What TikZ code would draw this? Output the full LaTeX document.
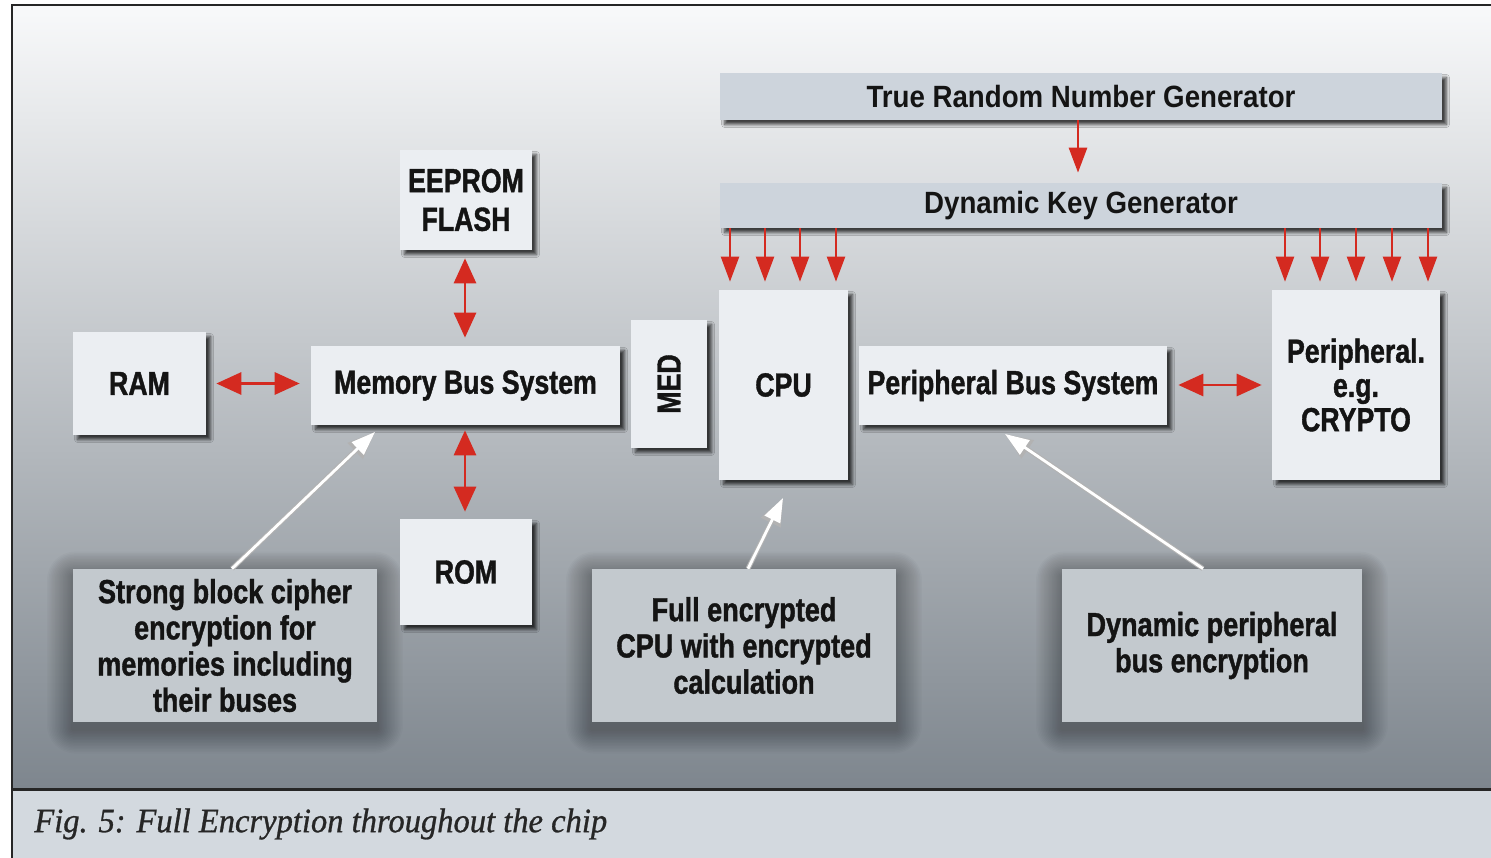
\documentclass[tikz,border=0pt]{standalone}
\usepackage{fontspec}
\setmainfont{Liberation Sans}
\newfontfamily\condf[FakeStretch=0.8, BoldFeatures={FakeBold=1.2}]{Liberation Sans}
\newfontfamily\medf[FakeStretch=0.9]{Liberation Sans}
\newfontfamily\callf[FakeStretch=0.81, BoldFeatures={FakeBold=1.2}]{Liberation Sans}
\newfontfamily\capf[FakeStretch=0.95, ItalicFeatures={FakeBold=0.8}]{Liberation Serif}
\usetikzlibrary{arrows.meta,shadows.blur}
\definecolor{boxfill}{HTML}{EBEEF2}
\definecolor{barfill}{HTML}{CDD4DC}
\definecolor{callfill}{HTML}{C3C9CE}
\definecolor{arrred}{HTML}{D42A20}
\definecolor{bgtop}{HTML}{F8F9FA}
\definecolor{bgmid}{HTML}{CDD3D8}
\definecolor{bgbot}{HTML}{7E868E}
\definecolor{capfill}{HTML}{D3D9DF}
\newcommand\myhalo[1]{%
  \foreach \i in {1,...,16}{%
    \fill[black, opacity=0.018, rounded corners={\i*0.035cm}]
      ([xshift={-\i*0.032cm}, yshift={\i*0.03cm-0.14cm}]#1.north west)
      rectangle ([xshift={\i*0.032cm}, yshift={-\i*0.03cm-0.14cm}]#1.south east);
  }}
\tikzset{
  box/.style={fill=boxfill, inner sep=0pt, align=center, text=black!92,
    font=\condf\bfseries\fontsize{19}{22}\selectfont,
    blur shadow={shadow xshift=0.09cm, shadow yshift=-0.09cm, shadow blur radius=0.06cm, shadow opacity=72, shadow blur steps=6}},
  bar/.style={box, fill=barfill, font=\medf\bfseries\fontsize{17.5}{20}\selectfont},
  callout/.style={fill=callfill, inner sep=0pt, align=center, text=black!92,
    font=\callf\bfseries\fontsize{19}{20.6}\selectfont},
  calloutarea/.style={inner sep=0pt},
  redtip/.tip={Triangle[length=0.5cm,width=0.44cm]},
  smalltip/.tip={Triangle[length=0.5cm,width=0.36cm]},
  dbl/.style={draw=arrred, line width=1.7pt, redtip-redtip},
  keyarr/.style={draw=arrred, line width=1.3pt, -smalltip},
  ptrback/.style={draw=gray!60, line width=2.8pt, -{Triangle[length=0.55cm,width=0.42cm]}},
  ptrfront/.style={draw=white, line width=1.6pt, -{Triangle[length=0.48cm,width=0.34cm]}},
}
\begin{document}
\begin{tikzpicture}[x=0.02cm,y=-0.02cm]
\useasboundingbox (0,0) rectangle (1491,858);
% background
\shade[top color=bgtop, middle color=bgmid, bottom color=bgbot] (13,6) rectangle (1491,788);
\fill[capfill] (13,791) rectangle (1491,858);
\draw[line width=1.8pt, black!85] (12,789.5) -- (1491,789.5);
\draw[line width=1.3pt, black!85] (12,858) -- (12,5) -- (1491,5);
% caption
\node[anchor=west, inner sep=0pt, text=black!85, font=\capf\itshape\fontsize{19.5}{22}\selectfont] (cap) at (34,824) {Fig. 5: Full Encryption throughout the chip};

% halo areas of the callouts (drawn first, behind)
\path node[calloutarea, minimum width=6.08cm, minimum height=3.06cm] (strongA) at (225,645.5) {};
\path node[calloutarea, minimum width=6.08cm, minimum height=3.06cm] (fullA) at (744,645.5) {};
\path node[calloutarea, minimum width=6.0cm, minimum height=3.06cm] (dynA) at (1212,645.5) {};
\myhalo{strongA}
\myhalo{fullA}
\myhalo{dynA}

% boxes
\node[bar, minimum width=14.44cm, minimum height=0.94cm] (trng) at (1081,96.5) {True Random Number Generator};
\node[bar, minimum width=14.44cm, minimum height=0.9cm] (dkg) at (1081,205.5) {Dynamic Key Generator};
\node[box, minimum width=2.64cm, minimum height=2cm] (eeprom) at (466,200) {EEPROM\\FLASH};
\node[box, minimum width=2.66cm, minimum height=2.06cm] (ram) at (139.5,383.5) {RAM};
\node[box, minimum width=6.18cm, minimum height=1.58cm] (mbs) at (465.5,385.5) {Memory Bus System};
\node[box, minimum width=2.64cm, minimum height=2.12cm] (rom) at (466,572) {ROM};
\node[box, minimum width=1.52cm, minimum height=2.56cm] (med) at (669,384) {\rotatebox{90}{MED}};
\node[box, minimum width=2.58cm, minimum height=3.8cm] (cpu) at (783.5,385) {CPU};
\node[box, minimum width=6.16cm, minimum height=1.58cm] (pbs) at (1013,385.5) {Peripheral Bus System};
\node[box, minimum width=3.36cm, minimum height=3.8cm, font=\condf\bfseries\fontsize{19}{19.5}\selectfont] (per) at (1356,385) {Peripheral.\\e.g.\\CRYPTO};

% callouts
\node[callout, minimum width=6.08cm, minimum height=3.06cm] (strong) at (225,645.5) {Strong block cipher\\encryption for\\memories including\\their buses};
\node[callout, minimum width=6.08cm, minimum height=3.06cm] (full) at (744,645.5) {Full encrypted\\CPU with encrypted\\calculation};
\node[callout, minimum width=6.0cm, minimum height=3.06cm] (dyn) at (1212,645.5) {Dynamic peripheral\\bus encryption};

% red connectors
\draw[keyarr, line width=1.6pt] (1078,0 |- trng.south) -- (1078,0 |- dkg.north) [shorten >=0.2cm];
\foreach \xx in {730,765,800,836,1285,1320,1356,1392,1428}
  \draw[keyarr] (\xx,0 |- dkg.south) -- (\xx,0 |- cpu.north) [shorten >=0.16cm];
\draw[dbl, shorten <=0.2cm, shorten >=0.22cm] (ram.east) -- (ram.east -| mbs.west);
\draw[dbl, shorten <=0.16cm, shorten >=0.16cm] (465,0 |- eeprom.south) -- (465,0 |- mbs.north);
\draw[dbl, shorten <=0.1cm, shorten >=0.14cm] (465,0 |- mbs.south) -- (465,0 |- rom.north);
\draw[dbl, shorten <=0.22cm, shorten >=0.2cm] (per.west -| pbs.east) -- (per.west);

% pointers
\coordinate (pm) at (375,432);
\coordinate (pc) at (783,498);
\coordinate (pp) at (1005,434);
\draw[ptrback] (232,0 |- strong.north) -- (pm);
\draw[ptrfront] (232,0 |- strong.north) -- (pm);
\draw[ptrback] (748,0 |- full.north) -- (pc);
\draw[ptrfront] (748,0 |- full.north) -- (pc);
\draw[ptrback] (1203,0 |- dyn.north) -- (pp);
\draw[ptrfront] (1203,0 |- dyn.north) -- (pp);
\end{tikzpicture}
\end{document}
